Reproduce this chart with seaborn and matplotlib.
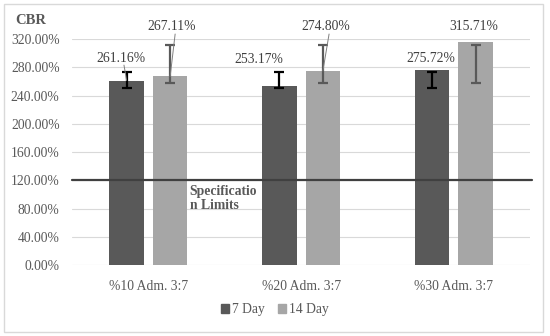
import matplotlib
matplotlib.use("Agg")
import matplotlib.pyplot as plt
import seaborn as sns
import pandas as pd
import numpy as np
from matplotlib.patches import Rectangle

categories = ["%10 Adm. 3:7", "%20 Adm. 3:7", "%30 Adm. 3:7"]
day7 = [261.16, 253.17, 275.72]
day14 = [267.11, 274.80, 315.71]
day7_err_low = [251.0, 251.0, 251.0]
day7_err_high = [273.5, 273.5, 273.5]
day14_err_low = [258.0, 258.0, 258.0]
day14_err_high = [311.5, 311.5, 311.5]
series = ["7 Day", "14 Day"]
spec_limit = 120.0
yticks = [0, 40, 80, 120, 160, 200, 240, 280, 320]

df = pd.DataFrame({
    "cat": categories * 2,
    "val": day7 + day14,
    "day": [series[0]] * 3 + [series[1]] * 3,
})

sns.set_theme(style="white")
plt.rcParams["font.family"] = ["Liberation Serif", "DejaVu Serif"]

fig = plt.figure(figsize=(5.5, 3.36), dpi=100)
ax = fig.add_axes([0.131, 0.211, 0.833, 0.673])

colors = {"7 Day": "#595959", "14 Day": "#a6a6a6"}
sns.barplot(data=df, x="cat", y="val", hue="day", palette=colors,
            width=0.57, gap=0.21, errorbar=None, ax=ax, legend=False,
            saturation=1, linewidth=0)

FS = 9.8
ax.set_ylim(0, 320)
ax.set_xlim(-0.5, 2.5)
ax.set_yticks(yticks)
ax.set_yticklabels([f"{v:.2f}%" for v in yticks], fontsize=FS, color="#595959")
ax.tick_params(axis="x", labelsize=FS, colors="#595959", length=0, pad=11)
ax.tick_params(axis="y", length=0, pad=9)
ax.set_xlabel("")
ax.set_ylabel("")
ax.grid(axis="y", color="#d9d9d9", linewidth=0.8)
ax.set_axisbelow(True)
for s in ax.spines.values():
    s.set_visible(False)

# error bars
bars = ax.patches
bar7 = bars[:3]
bar14 = bars[3:6]
x7 = [b.get_x() + b.get_width() / 2 for b in bar7]
x14 = [b.get_x() + b.get_width() / 2 for b in bar14]
m7 = [(l + h) / 2 for l, h in zip(day7_err_low, day7_err_high)]
e7 = [(h - l) / 2 for l, h in zip(day7_err_low, day7_err_high)]
m14 = [(l + h) / 2 for l, h in zip(day14_err_low, day14_err_high)]
e14 = [(h - l) / 2 for l, h in zip(day14_err_low, day14_err_high)]
ax.errorbar(x7, m7, yerr=e7, fmt="none", ecolor="#000000", elinewidth=1.6,
            capsize=3.5, capthick=1.6, zorder=5)
ax.errorbar(x14, m14, yerr=e14, fmt="none", ecolor="#595959", elinewidth=1.6,
            capsize=3.5, capthick=1.6, zorder=5)

# spec line
ax.axhline(spec_limit, color="#404040", linewidth=1.6, xmin=0, xmax=1.005,
           clip_on=False, zorder=4)
ax.text(0.27, 113, "Specificatio\nn Limits", fontsize=FS, fontweight="bold",
        color="#595959", va="top", ha="left", linespacing=1.05)

# data labels with leader lines
label_pos7 = [(-0.18, 293), (0.72, 291), (1.85, 293)]
label_pos14 = [(0.155, 337), (1.163, 337), (2.133, 337)]
leader7 = [True, False, False]
leader14 = [True, True, False]
for xs, vals, poss, leads in [(x7, day7, label_pos7, leader7),
                              (x14, day14, label_pos14, leader14)]:
    for x, v, (lx, ly), lead in zip(xs, vals, poss, leads):
        ax.text(lx, ly, f"{v:.2f}%", fontsize=FS, color="#404040",
                ha="center", va="center", zorder=6)
        if lead:
            ax.plot([lx + 0.02, x], [ly - 10, v], color="#7f7f7f",
                    linewidth=0.7, zorder=6, clip_on=False)

# CBR title
fig.text(15 / 550, 1 - 20 / 336, "CBR", fontsize=10.5, fontweight="bold",
         color="#595959", va="center", ha="left")

# legend
handles = [Rectangle((0, 0), 1, 1, color=colors[s]) for s in series]
fig.legend(handles, series, loc="center", bbox_to_anchor=(0.5, 1 - 310 / 336),
           ncol=2, frameon=False, fontsize=FS, handlelength=0.6,
           handleheight=0.6, handletextpad=0.2, columnspacing=1.0,
           labelcolor="#595959")

# outer frame
fig.patches.append(Rectangle((4 / 550, 4 / 336), 539 / 550, 328 / 336,
                             transform=fig.transFigure, fill=False,
                             edgecolor="#d9d9d9", linewidth=1))

fig.savefig("out.png", dpi=100)
